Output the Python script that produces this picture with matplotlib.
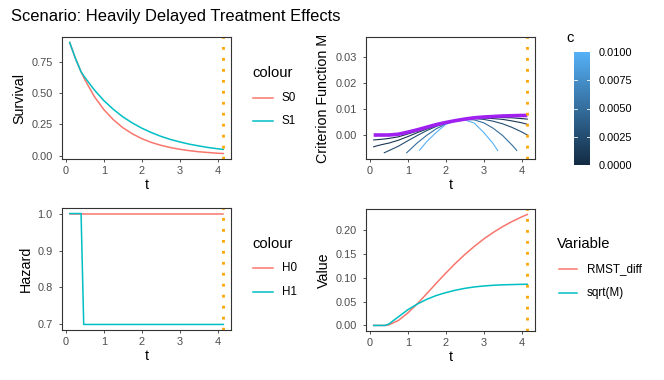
import matplotlib
matplotlib.use("Agg")
import matplotlib.pyplot as plt
from matplotlib.lines import Line2D
from matplotlib.colors import LinearSegmentedColormap, Normalize
import numpy as np

plt.rcParams['font.family'] = ['Liberation Sans', 'DejaVu Sans']

# values
t = [0.1, 0.25, 0.4, 0.5, 0.75, 1.0, 1.25, 1.5, 1.75, 2.0, 2.25, 2.5,
     2.75, 3.0, 3.25, 3.5, 3.75, 4.0, 4.15]
s0 = [0.905, 0.779, 0.670, 0.607, 0.472, 0.368, 0.287, 0.223, 0.174, 0.135,
      0.105, 0.082, 0.064, 0.050, 0.039, 0.030, 0.024, 0.018, 0.016]
s1 = [0.905, 0.779, 0.670, 0.625, 0.525, 0.440, 0.370, 0.310, 0.261, 0.219,
      0.184, 0.154, 0.129, 0.109, 0.091, 0.077, 0.064, 0.054, 0.049]

t_h0 = [0.1, 4.15]
h0 = [1.0, 1.0]
t_h1 = [0.1, 0.4, 0.47, 4.15]
h1 = [1.0, 1.0, 0.7, 0.7]

rmst_diff = [0.0, 0.0, 0.0, 0.0012, 0.0104, 0.0262, 0.0456, 0.0670, 0.0888,
             0.1100, 0.1303, 0.1491, 0.1662, 0.1818, 0.1956, 0.2079, 0.2188,
             0.2283, 0.2335]
sqrt_m = [0.0, 0.0, 0.0, 0.003, 0.018, 0.033, 0.045, 0.055, 0.063, 0.069,
          0.074, 0.078, 0.081, 0.083, 0.0845, 0.0855, 0.086, 0.0865, 0.0867]
crit_m = [0.0, 0.0, 0.0, 0.00001, 0.0003, 0.0011, 0.002, 0.003, 0.004, 0.0048,
          0.0055, 0.0061, 0.0066, 0.0069, 0.0071, 0.0073, 0.0074, 0.0075, 0.0075]

# criterion curves for several c
c_values = [0.0005, 0.001, 0.0025, 0.005, 0.01]
c_t = [
    t,
    t,
    [0.38, 0.5, 0.75, 1.0, 1.25, 1.5, 1.75, 2.0, 2.25, 2.5, 2.75, 3.0, 3.25,
     3.5, 3.75, 4.0, 4.15],
    [0.97, 1.0, 1.25, 1.5, 1.75, 2.0, 2.25, 2.5, 2.75, 3.0, 3.25, 3.5, 3.75, 3.87],
    [1.31, 1.5, 1.75, 2.0, 2.25, 2.5, 2.75, 3.0, 3.25, 3.37],
]
c_m = [
    [-0.0019, -0.0017, -0.0015, -0.0013, -0.0007, 0.0004, 0.0015, 0.0027, 0.0039,
     0.0047, 0.0055, 0.0061, 0.0065, 0.0067, 0.0068, 0.0067, 0.0066, 0.0063, 0.0061],
    [-0.0045, -0.0039, -0.0034, -0.0031, -0.0020, -0.0006, 0.0009, 0.0023, 0.0036,
     0.0047, 0.0055, 0.0061, 0.0065, 0.0065, 0.0063, 0.0060, 0.0054, 0.0047, 0.0041],
    [-0.0068, -0.0060, -0.0043, -0.0022, -0.0002, 0.0017, 0.0033, 0.0045, 0.0055,
     0.0061, 0.0063, 0.0060, 0.0053, 0.0043, 0.0029, 0.0012, 0.0000],
    [-0.0068, -0.0064, -0.0030, -0.0001, 0.0024, 0.0042, 0.0054, 0.0060, 0.0058,
     0.0047, 0.0026, -0.0002, -0.0039, -0.0059],
    [-0.0058, -0.0025, 0.0010, 0.0041, 0.0055, 0.0058, 0.0046, 0.0010, -0.0033, -0.0060],
]
t_star = 4.15

RED = '#F8766D'
CYAN = '#00BFC4'
cmap = LinearSegmentedColormap.from_list('gg', ['#132B43', '#56B1F7'])
norm = Normalize(0, 0.01)

TICK = 7.9
AXT = 10.3
LEGT = 10.6
LEGL = 8.4

W, H = 664, 380
fig = plt.figure(figsize=(6.64, 3.8), dpi=100)


def box(l, tp, r, b):
    return [l / W, 1 - b / H, (r - l) / W, (b - tp) / H]


def style(ax, ylim, yticks, ylabels, ylab):
    for s in ax.spines.values():
        s.set_color('#333333')
        s.set_linewidth(0.8)
    ax.tick_params(colors='#333333', labelcolor='#4D4D4D', labelsize=TICK,
                   length=2.5, width=0.6)
    ax.tick_params(axis='y', pad=4.2)
    ax.tick_params(axis='x', pad=2.8)
    ax.set_xlim(-0.1025, 4.3525)
    ax.set_xticks([0, 1, 2, 3, 4])
    ax.set_ylim(*ylim)
    ax.set_yticks(yticks)
    ax.set_yticklabels(ylabels)
    ax.set_xlabel('t', fontsize=AXT, labelpad=1.5)
    ax.set_ylabel(ylab, fontsize=AXT, labelpad=3.5)
    ax.axvline(t_star, color='orange', linestyle=(0, (1, 2.95)), linewidth=2.0)


def legend(title, labels, colors, x, ty, ys, kx0=253, kx1=273, lx=282):
    fig.text(x / W, 1 - ty / H, title, fontsize=LEGT, va='center', ha='left')
    for lab, col, y in zip(labels, colors, ys):
        fig.add_artist(Line2D([kx0 / W, kx1 / W], [1 - y / H, 1 - y / H],
                              color=col, linewidth=1.1, transform=fig.transFigure))
        fig.text(lx / W, 1 - y / H, lab, fontsize=LEGL, va='center', ha='left')


fig.text(11 / W, 1 - 16 / H, 'Scenario: Heavily Delayed Treatment Effects',
         fontsize=11.9, va='center', ha='left')

# Survival
ax1 = fig.add_axes(box(62, 37, 231, 159))
ax1.plot(t, s0, color=RED, linewidth=1.1)
ax1.plot(t, s1, color=CYAN, linewidth=1.1)
style(ax1, (-0.028, 0.949), [0, 0.25, 0.5, 0.75],
      ['0.00', '0.25', '0.50', '0.75'], 'Survival')
legend('colour', ['S0', 'S1'], [RED, CYAN], 252, 73, [98, 121])

# Criterion function
ax2 = fig.add_axes(box(366, 37, 535, 159))
for ct, cm, cv in zip(c_t, c_m, c_values):
    ax2.plot(ct, cm, color=cmap(norm(cv)), linewidth=0.8)
ax2.plot(t, crit_m, color='#A020F0', linewidth=2.6, solid_capstyle='butt')
style(ax2, (-0.0092, 0.0376), [0, 0.01, 0.02, 0.03],
      ['0.00', '0.01', '0.02', '0.03'], 'Criterion Function M')

cax = fig.add_axes(box(574, 52, 590, 165))
cax.imshow(np.linspace(0, 0.01, 256)[:, None], aspect='auto', cmap=cmap,
           norm=norm, origin='lower', extent=[0, 1, 0, 0.01])
for s in cax.spines.values():
    s.set_visible(False)
cax.set_xticks([])
cax.yaxis.tick_right()
cax.set_yticks([0, 0.0025, 0.005, 0.0075, 0.01])
cax.set_yticklabels(['0.0000', '0.0025', '0.0050', '0.0075', '0.0100'])
cax.tick_params(axis='y', length=0, pad=6, labelsize=TICK, labelcolor='black')
for v in [0.0025, 0.005, 0.0075]:
    cax.plot([0, 0.2], [v, v], color='white', linewidth=0.6)
    cax.plot([0.8, 1], [v, v], color='white', linewidth=0.6)
cax.set_xlim(0, 1)
cax.set_ylim(0, 0.01)
fig.text(566 / W, 1 - 38 / H, 'c', fontsize=LEGT, va='center', ha='left')

# Hazard
ax3 = fig.add_axes(box(62, 208, 231, 330))
ax3.plot(t_h0, h0, color=RED, linewidth=1.1)
ax3.plot(t_h1, h1, color=CYAN, linewidth=1.1)
style(ax3, (0.685, 1.015), [0.7, 0.8, 0.9, 1.0],
      ['0.7', '0.8', '0.9', '1.0'], 'Hazard')
legend('colour', ['H0', 'H1'], [RED, CYAN], 252, 244, [268, 292])

# RMST difference and sqrt(M)
ax4 = fig.add_axes(box(366, 209, 535, 331))
ax4.plot(t, rmst_diff, color=RED, linewidth=1.1)
ax4.plot(t, sqrt_m, color=CYAN, linewidth=1.1)
style(ax4, (-0.0117, 0.245), [0, 0.05, 0.1, 0.15, 0.2],
      ['0.00', '0.05', '0.10', '0.15', '0.20'], 'Value')
legend('Variable', ['RMST_diff', 'sqrt(M)'], [RED, CYAN], 557, 244, [269, 293],
       kx0=559, kx1=577, lx=587)

fig.savefig('out.png', dpi=100)
